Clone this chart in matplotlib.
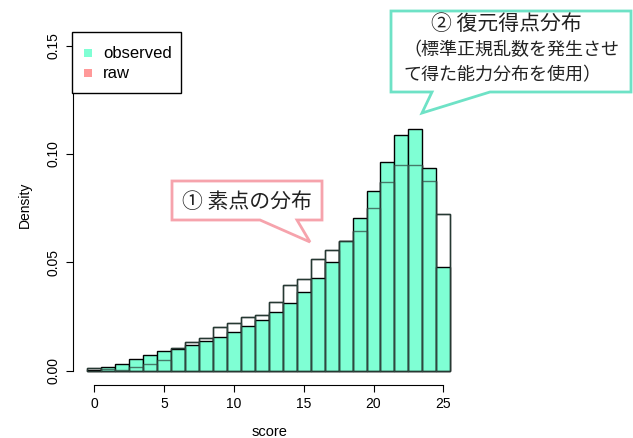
import matplotlib
matplotlib.use('Agg')
import matplotlib.pyplot as plt
from matplotlib.patches import Polygon, Rectangle
import numpy as np

# score bins 0..25 (width 1, centred on integers)
scores = list(range(26))
observed = [0.0004, 0.0017, 0.0032, 0.0054, 0.0072, 0.0091, 0.0102, 0.0120, 0.0138,
            0.0155, 0.0178, 0.0205, 0.0235, 0.0272, 0.0315, 0.0364, 0.0427, 0.0504,
            0.0598, 0.0704, 0.0830, 0.0965, 0.1086, 0.1115, 0.0937, 0.0481]
raw = [0.0012, 0.0010, 0.0005, 0.0017, 0.0032, 0.0049, 0.0105, 0.0134, 0.0151,
       0.0201, 0.0223, 0.0251, 0.0258, 0.0318, 0.0395, 0.0424, 0.0516, 0.0558,
       0.0598, 0.0643, 0.0749, 0.0870, 0.0949, 0.0949, 0.0875, 0.0725]
x_ticks = [0, 5, 10, 15, 20, 25]
y_ticks = [0.00, 0.05, 0.10, 0.15]
y_tick_labels = ['0.00', '0.05', '0.10', '0.15']
legend_labels = ['observed', 'raw']
legend_colors = ['#7FFFD4', '#FF9999']

W, H = 633, 438
fig = plt.figure(figsize=(W / 100, H / 100), dpi=100)
ax = fig.add_axes([72.8 / W, 1 - 384.5 / H, 392 / W, 352.5 / H])

ax.bar(scores, raw, width=1.0, facecolor='white', edgecolor='black', linewidth=1.0)
ax.bar(scores, observed, width=1.0, facecolor='#7FFFD4', edgecolor='black', linewidth=1.0)
# raw outline showing through the observed bars
ax.bar(scores, raw, width=1.0, facecolor='none', edgecolor=(0.2, 0.3, 0.27, 0.75),
       linewidth=1.0)

ax.set_xlim(-1.54, 26.54)
ax.set_ylim(-0.00624, 0.15624)
for s in ['top', 'right']:
    ax.spines[s].set_visible(False)
ax.spines['left'].set_bounds(0, 0.15)
ax.spines['bottom'].set_bounds(0, 25)
ax.set_xticks(x_ticks)
ax.set_yticks(y_ticks)
ax.set_yticklabels(y_tick_labels, rotation=90, va='center')
ax.tick_params(length=5, width=0.8, labelsize=10, pad=4)
for lab in ax.get_xticklabels() + ax.get_yticklabels():
    lab.set_family('Liberation Sans')

fig.text(25 / W, 1 - 205 / H, 'Density', rotation=90, ha='center', va='center',
         fontsize=10, family='Liberation Sans')
fig.text(270 / W, 1 - 432 / H, 'score', ha='center', va='center',
         fontsize=10.5, family='Liberation Sans')


def px(pts):
    return [(x / W, 1 - y / H) for x, y in pts]


# legend box (R style)
fig.patches.append(Rectangle((72 / W, 1 - 93 / H), 109 / W, 61 / H, transform=fig.transFigure,
                             facecolor='white', edgecolor='black', linewidth=1.0))
for i, (lab, col) in enumerate(zip(legend_labels, legend_colors)):
    yc = 53 + 20 * i
    fig.patches.append(Rectangle((84 / W, 1 - (yc + 4) / H), 8 / W, 8 / H,
                                 transform=fig.transFigure, facecolor=col, edgecolor='none'))
    fig.text(103 / W, 1 - yc / H, lab, ha='left', va='center', fontsize=12,
             family='Liberation Sans')

jp = ['Noto Sans CJK JP', 'DejaVu Sans']

# callout 1
fig.patches.append(Polygon(px([(172, 181), (322, 181), (322, 220), (297, 220), (310, 242),
                               (260, 220), (172, 220)]), closed=True,
                           transform=fig.transFigure, facecolor='white',
                           edgecolor='#F6A3AC', linewidth=2))
fig.text(247 / W, 1 - 202 / H, '① 素点の分布', ha='center', va='center',
         fontsize=15, family=jp, color='#222222')

# callout 2
fig.patches.append(Polygon(px([(391, 11), (631, 11), (631, 92), (490, 92), (422, 113),
                               (432, 92), (391, 92)]), closed=True,
                           transform=fig.transFigure, facecolor='white',
                           edgecolor='#6EE2C6', linewidth=2))
fig.text(506 / W, 1 - 24 / H, '② 復元得点分布', ha='center', va='center',
         fontsize=15, family=jp, color='#222222')
fig.text(403 / W, 1 - 50 / H, '（標準正規乱数を発生させ', ha='left', va='center',
         fontsize=13, family=jp, color='#222222')
fig.text(403 / W, 1 - 75 / H, 'て得た能力分布を使用）', ha='left', va='center',
         fontsize=13, family=jp, color='#222222')

fig.savefig('out.png', dpi=100)
